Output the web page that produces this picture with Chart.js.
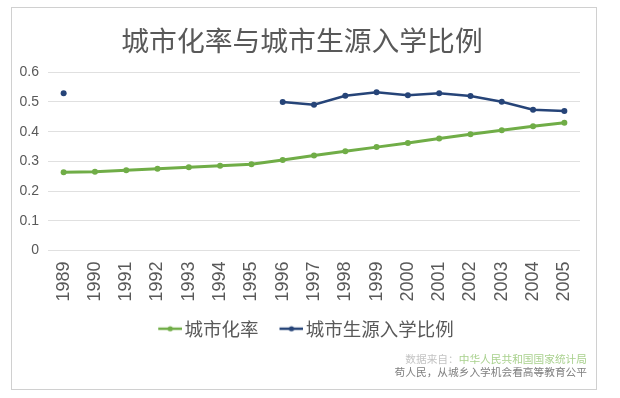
<!DOCTYPE html>
<html>
<head>
<meta charset="utf-8">
<script src="https://cdn.jsdelivr.net/npm/chart.js@4.4.1/dist/chart.umd.min.js"></script>
<style>
  html, body { margin: 0; padding: 0; background: #ffffff; }
  #wrap { position: relative; width: 620px; height: 398px; overflow: hidden; }
  #frame { position: absolute; left: 11px; top: 7px; width: 584px; height: 381px; border: 1px solid #d0d0d0; }
  #cv { position: absolute; left: 0; top: 0; }
  .src { position: absolute; right: 33px; font-family: "Noto Sans CJK SC", sans-serif; font-size: 10.7px; line-height: 13px; white-space: nowrap; }
  #src1 { top: 352px; color: #c4c4c4; }
  #src1 .g { color: #a9d18e; }
  #src2 { top: 365px; color: #7f7f7f; }
</style>
</head>
<body>
<div id="wrap">
  <div id="frame"></div>
  <canvas id="cv" width="620" height="398"></canvas>
  <div class="src" id="src1">数据来自：<span class="g">中华人民共和国国家统计局</span></div>
  <div class="src" id="src2">苟人民，从城乡入学机会看高等教育公平</div>
</div>
<script>
const titleText = "城市化率与城市生源入学比例";
const years = ["1989","1990","1991","1992","1993","1994","1995","1996","1997","1998","1999","2000","2001","2002","2003","2004","2005"];
const urbanLabel = "城市化率";
const urbanRate = [0.263, 0.265, 0.270, 0.275, 0.280, 0.285, 0.290, 0.305, 0.320, 0.334, 0.348, 0.362, 0.377, 0.391, 0.405, 0.418, 0.430];
const enrollLabel = "城市生源入学比例";
const enrollRatio = [0.529, null, null, null, null, null, null, 0.500, 0.491, 0.521, 0.533, 0.523, 0.529, 0.520, 0.501, 0.474, 0.470];
const yTickLabels = ["0", "0.1", "0.2", "0.3", "0.4", "0.5", "0.6"];

const GREEN = "#70ad47";
const BLUE = "#264478";

// legend icon: line with a dot, drawn in the right 24px of a wider transparent canvas
const ICON_BOX = 25;
function legendIcon(color, lw) {
  const C = ICON_BOX + 14;
  const c = document.createElement("canvas");
  c.width = C; c.height = 8;
  const g = c.getContext("2d");
  g.strokeStyle = color; g.lineWidth = lw;
  g.beginPath(); g.moveTo(C - 24, 4); g.lineTo(C, 4); g.stroke();
  g.fillStyle = color;
  g.beginPath(); g.arc(C - 12, 4, 2.6, 0, Math.PI * 2); g.fill();
  return c;
}
const icons = [legendIcon(GREEN, 2.5), legendIcon(BLUE, 2.5)];

new Chart(document.getElementById("cv"), {
  type: "line",
  data: {
    labels: years,
    datasets: [
      { label: urbanLabel, data: urbanRate, borderColor: GREEN, backgroundColor: GREEN,
        borderWidth: 3, pointRadius: 3, pointBorderWidth: 0, tension: 0 },
      { label: enrollLabel, data: enrollRatio, borderColor: BLUE, backgroundColor: BLUE,
        borderWidth: 2.5, pointRadius: 3, pointBorderWidth: 0, tension: 0, spanGaps: false }
    ]
  },
  options: {
    responsive: false,
    animation: false,
    devicePixelRatio: 1,
    layout: { padding: { left: 12, right: 28, top: 0, bottom: 50 } },
    plugins: {
      title: {
        display: true, text: titleText, color: "#595959",
        font: { family: "'Noto Sans CJK SC', sans-serif", size: 27.8, weight: "normal", lineHeight: 1.2 },
        padding: { top: 24, bottom: 14.9 }
      },
      legend: {
        position: "bottom",
        labels: {
          color: "#595959",
          font: { family: "'Noto Sans CJK SC', sans-serif", size: 18.5 },
          usePointStyle: true,
          pointStyleWidth: ICON_BOX,
          padding: 13,
          generateLabels: (chart) => chart.data.datasets.map((ds, i) => ({
            text: ds.label, datasetIndex: i, pointStyle: icons[i],
            fillStyle: ds.borderColor, strokeStyle: ds.borderColor, lineWidth: 0, hidden: false,
            fontColor: "#595959"
          }))
        }
      },
      tooltip: { enabled: false }
    },
    scales: {
      x: {
        offset: true,
        grid: { display: false, drawTicks: false },
        border: { display: false },
        ticks: {
          color: "#595959", minRotation: 90, maxRotation: 90, padding: 11, autoSkip: false,
          font: { family: "'Liberation Sans', Arial, sans-serif", size: 18 }
        },
        afterFit: (s) => { s.height = 56; s.paddingLeft = 0; s.paddingRight = 0; }
      },
      y: {
        min: 0, max: 0.6,
        grid: { color: "#e0e0e0", lineWidth: 1, drawTicks: false },
        border: { display: false },
        ticks: {
          stepSize: 0.1, color: "#595959", padding: 9,
          font: { family: "'Liberation Sans', Arial, sans-serif", size: 14 },
          callback: (v, i) => yTickLabels[i]
        },
        afterFit: (s) => { s.width = 36; }
      },
      spacer: {
        type: "linear", position: "right", display: true,
        grid: { display: false, drawTicks: false },
        border: { display: false },
        ticks: { display: false },
        afterFit: (s) => { s.width = 12; }
      }
    }
  }
});
</script>
</body>
</html>
